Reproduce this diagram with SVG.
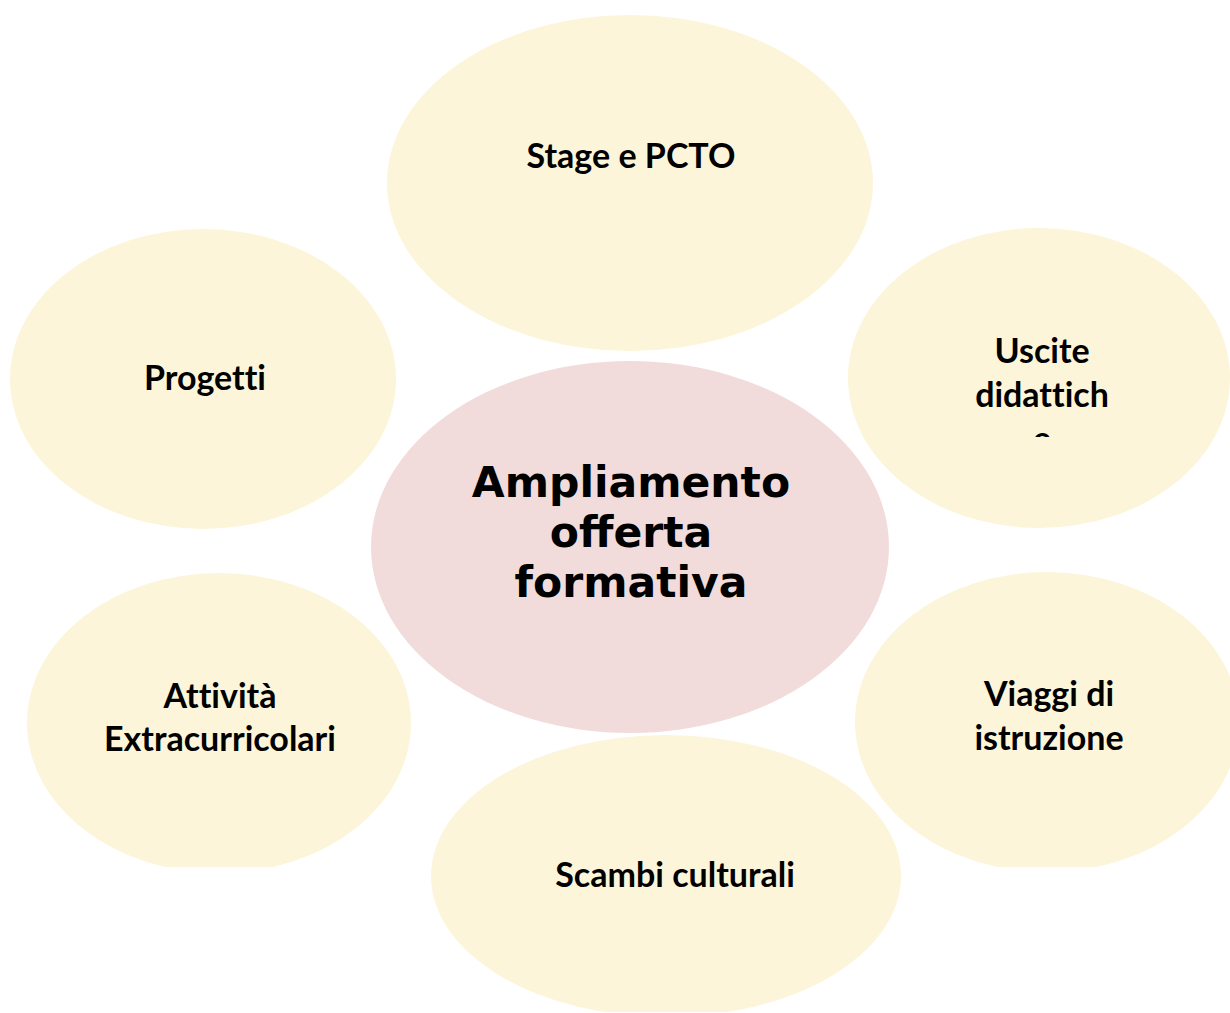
<svg xmlns="http://www.w3.org/2000/svg" width="1230" height="1013" viewBox="0 0 1230 1013">
<style>
.sat{fill:#FDF5D9}
.core{fill:#F2DCDB}
.t{font-family:Lato,"Open Sans",sans-serif;font-weight:700;font-size:34px;fill:#000;text-anchor:middle;font-variant-ligatures:none}
.c{font-family:"DejaVu Sans",sans-serif;font-weight:700;font-size:42.5px;fill:#000;text-anchor:middle}
</style>
<defs>
<clipPath id="clipA"><rect x="0" y="0" width="1230" height="867"/></clipPath>
<clipPath id="clipU"><rect x="0" y="0" width="1230" height="437"/></clipPath>
<clipPath id="clipS"><rect x="0" y="0" width="1230" height="1012"/></clipPath>
</defs>
<g id="connectors"></g>
<g id="stage"><ellipse class="sat" cx="630" cy="183" rx="243" ry="168"/><text class="t" x="631" y="168">Stage e PCTO</text></g>
<g id="progetti"><ellipse class="sat" cx="203" cy="379" rx="193" ry="150"/><text class="t" x="205" y="390">Progetti</text></g>
<g id="uscite"><ellipse class="sat" cx="1039" cy="378" rx="191" ry="150"/><text class="t" x="1042" y="363">Uscite</text><text class="t" x="1042" y="407">didattich</text><text class="t" x="1042" y="451" clip-path="url(#clipU)">e</text></g>
<g id="centro"><ellipse class="core" cx="630" cy="547" rx="259" ry="186"/><text class="c" x="631" y="497">Ampliamento</text><text class="c" x="631" y="547">offerta</text><text class="c" x="631" y="597">formativa</text></g>
<g id="attivita"><ellipse class="sat" cx="219" cy="723" rx="192" ry="150" clip-path="url(#clipA)"/><text class="t" x="220" y="708">Attività</text><text class="t" x="220" y="751">Extracurricolari</text></g>
<g id="viaggi"><ellipse class="sat" cx="1047" cy="722" rx="192" ry="150" clip-path="url(#clipA)"/><text class="t" x="1049" y="706">Viaggi di</text><text class="t" x="1049" y="750">istruzione</text></g>
<g id="scambi"><ellipse class="sat" cx="666" cy="876" rx="235" ry="141" clip-path="url(#clipS)"/><text class="t" x="675" y="887">Scambi culturali</text></g>
</svg>
